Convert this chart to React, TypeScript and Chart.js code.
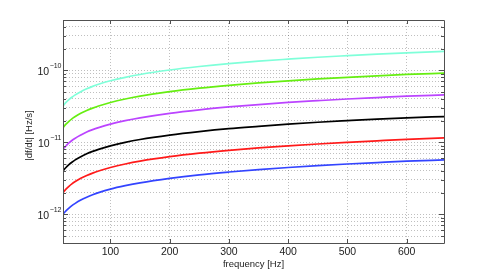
import React, { useEffect, useRef } from "react";
import { Chart, registerables } from "chart.js";

Chart.register(...registerables);

// frequency samples [Hz]
const frequencies = [20, 22, 25, 30, 35, 40, 50, 60, 70, 80, 100, 125, 150, 200, 250, 300, 350, 400, 450, 500, 550, 600, 663];

// |df/dt| values, in units of 1e-12 Hz/s
const blueRate = [1.0, 1.05, 1.12, 1.22, 1.32, 1.41, 1.58, 1.73, 1.87, 2.0, 2.24, 2.5, 2.74, 3.16, 3.54, 3.87, 4.18, 4.47, 4.74, 5.0, 5.24, 5.48, 5.7];
const redRate = [2.0, 2.1, 2.24, 2.45, 2.65, 2.83, 3.16, 3.46, 3.74, 4.0, 4.47, 5.0, 5.48, 6.32, 7.07, 7.75, 8.37, 8.94, 9.49, 10.0, 10.5, 11.0, 11.5];
const blackRate = [4.0, 4.2, 4.47, 4.9, 5.29, 5.66, 6.32, 6.93, 7.48, 8.0, 8.94, 10.0, 10.95, 12.6, 14.1, 15.5, 16.7, 17.9, 19.0, 20.0, 21.0, 21.9, 22.8];
const purpleRate = [8.0, 8.4, 8.9, 9.8, 10.6, 11.3, 12.6, 13.9, 15.0, 16.0, 17.9, 20.0, 21.9, 25.3, 28.3, 31.0, 33.5, 35.8, 37.9, 40.0, 41.9, 43.8, 45.6];
const greenRate = [16.0, 16.8, 17.9, 19.6, 21.2, 22.6, 25.3, 27.7, 29.9, 32.0, 35.8, 40.0, 43.8, 50.6, 56.6, 62.0, 66.9, 71.6, 75.9, 80.0, 83.9, 87.6, 91.5];
const cyanRate = [32, 33.6, 35.8, 39.2, 42.3, 45.3, 50.6, 55.4, 59.9, 64.0, 71.6, 80.0, 87.6, 101, 113, 124, 134, 143, 152, 160, 168, 175, 183];

const seriesColors = ["#7FFFD9", "#66EE11", "#BB44FF", "#000000", "#FF1A1A", "#3344FF"];
const seriesValues = [cyanRate, greenRate, purpleRate, blackRate, redRate, blueRate];
const UNIT = 1e-12;

const xTickValues = [100, 200, 300, 400, 500, 600];
const xMin = 20;
const xMax = 663;
const yMin = 4e-13;
const yMax = 5e-10;
const yDecades = [-13, -12, -11, -10];
const xTitle = "frequency [Hz]";
const yTitle = "|df/dt| [Hz/s]";

function buildYTicks(): number[] {
  const out: number[] = [];
  for (const d of yDecades) {
    for (let m = 1; m <= 9; m++) {
      const v = m * Math.pow(10, d);
      if (v >= yMin * 0.999 && v <= yMax * 1.001) out.push(v);
    }
  }
  return out;
}
const yTickValues = buildYTicks();
const isMajor = (v: number) => {
  const l = Math.log10(v);
  return Math.abs(l - Math.round(l)) < 1e-6;
};

const FONT = "'Liberation Sans', Arial, Helvetica, sans-serif";

const framePlugin = {
  id: "frame",
  afterDraw(chart: any) {
    const { ctx, chartArea } = chart;
    const { left, right, top, bottom } = chartArea;
    const x = chart.scales.x;
    const y = chart.scales.y;
    ctx.save();
    // box
    ctx.strokeStyle = "#505050";
    ctx.lineWidth = 1;
    ctx.beginPath();
    ctx.rect(Math.round(left) + 0.5, Math.round(top) + 0.5, Math.round(right) - Math.round(left), Math.round(bottom) - Math.round(top));
    ctx.stroke();
    // inward ticks
    ctx.beginPath();
    for (const v of xTickValues) {
      const px = Math.round(x.getPixelForValue(v)) + 0.5;
      ctx.moveTo(px, bottom);
      ctx.lineTo(px, bottom - 4);
      ctx.moveTo(px, top);
      ctx.lineTo(px, top + 4);
    }
    for (const v of yTickValues) {
      const py = Math.round(y.getPixelForValue(v)) + 0.5;
      const len = isMajor(v) ? 5 : 3;
      ctx.moveTo(left, py);
      ctx.lineTo(left + len, py);
      ctx.moveTo(right, py);
      ctx.lineTo(right - len, py);
    }
    ctx.stroke();

    // x tick labels
    ctx.fillStyle = "#222";
    ctx.font = `10.5px ${FONT}`;
    ctx.textAlign = "center";
    ctx.textBaseline = "middle";
    for (const v of xTickValues) {
      ctx.fillText(String(v), x.getPixelForValue(v), 252.5);
    }
    // y tick labels 10^n
    for (const v of yTickValues) {
      if (!isMajor(v)) continue;
      const exp = Math.round(Math.log10(v));
      const py = y.getPixelForValue(v);
      const sup = "\u2212" + String(Math.abs(exp));
      ctx.font = `7px ${FONT}`;
      ctx.textAlign = "left";
      ctx.textBaseline = "alphabetic";
      const supW = ctx.measureText(sup).width;
      const supX = left - 1.5 - supW;
      ctx.fillText(sup, supX, py - 2.5);
      ctx.font = `10.5px ${FONT}`;
      ctx.textAlign = "right";
      ctx.fillText("10", supX - 0.5, py + 4.3);
    }
    // titles
    ctx.font = `9.5px ${FONT}`;
    ctx.textAlign = "center";
    ctx.textBaseline = "middle";
    ctx.fillText(xTitle, (left + right) / 2, 264);
    ctx.save();
    ctx.translate(29, (top + bottom) / 2 + 4);
    ctx.rotate(-Math.PI / 2);
    ctx.fillText(yTitle, 0, 0);
    ctx.restore();
    ctx.restore();
  },
};

export default function App() {
  const ref = useRef<HTMLCanvasElement>(null);
  useEffect(() => {
    document.body.style.margin = "0";
    const datasets = seriesValues.map((vals, i) => ({
      label: `series ${i + 1}`,
      data: frequencies.map((f, j) => ({ x: f, y: vals[j] * UNIT })),
      borderColor: seriesColors[i],
      backgroundColor: seriesColors[i],
      borderWidth: 1.7,
      pointRadius: 0,
      fill: false,
      cubicInterpolationMode: "monotone" as const,
    }));
    const gridOpts = { color: "rgba(0,0,0,0.25)", lineWidth: 1, drawTicks: false };
    const chart = new Chart(ref.current!, {
      type: "line",
      data: { datasets },
      options: {
        animation: false,
        responsive: false,
        devicePixelRatio: 1,
        layout: { padding: { top: 20, right: 47, left: 0, bottom: 0 } },
        plugins: { legend: { display: false }, tooltip: { enabled: false } },
        scales: {
          x: {
            type: "linear",
            min: xMin,
            max: xMax,
            afterBuildTicks: (s: any) => {
              s.ticks = xTickValues.map((v) => ({ value: v }));
            },
            afterFit: (s: any) => {
              s.height = 31;
            },
            ticks: { display: false },
            grid: gridOpts,
            border: { display: false, dash: [1, 2] },
          },
          y: {
            type: "logarithmic",
            min: yMin,
            max: yMax,
            afterBuildTicks: (s: any) => {
              s.ticks = yTickValues.map((v) => ({ value: v }));
            },
            afterFit: (s: any) => {
              s.width = 63;
            },
            ticks: { display: false },
            grid: gridOpts,
            border: { display: false, dash: [1, 2] },
          },
        },
      },
      plugins: [framePlugin],
    });
    return () => chart.destroy();
  }, []);
  return (
    <div style={{ width: 491, height: 274 }}>
      <canvas ref={ref} width={491} height={274} style={{ display: "block" }} />
    </div>
  );
}
